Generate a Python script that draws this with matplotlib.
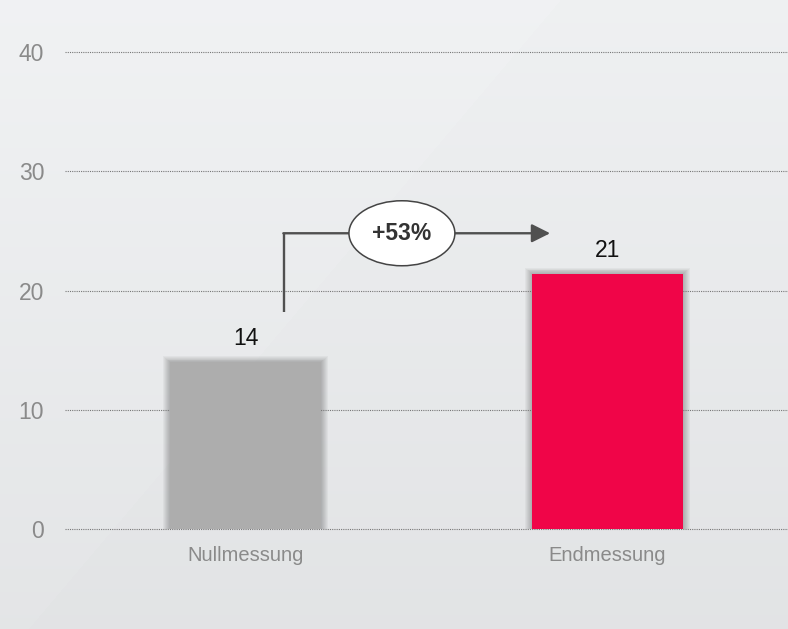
import numpy as np
import matplotlib
matplotlib.use("Agg")
import matplotlib.pyplot as plt
from matplotlib.patches import Ellipse, Rectangle

categories = ["Nullmessung", "Endmessung"]
values = [14.0, 21.4]
value_labels = ["14", "21"]
change_label = "+53%"
yticks = [0, 10, 20, 30, 40]
bar_colors = ["#adadad", "#f00548"]

plt.rcParams['font.family'] = ['Liberation Sans', 'DejaVu Sans']

fig = plt.figure(figsize=(7.88, 6.29), dpi=100)

# background gradient
bg = fig.add_axes([0, 0, 1, 1])
bg.set_axis_off()
H, W = 629, 788
yy, xx = np.mgrid[0:H, 0:W]
base = 0.945 - 0.05 * (yy / H)
d = (xx - 560) + 0.95 * yy * (560 / 629)
band = np.where(d < 0, 0.006, 0.0)
img = np.clip(base + band, 0, 1)
rgb = np.stack([img - 0.008, img - 0.002, img + 0.004], axis=-1)
bg.imshow(np.clip(rgb, 0, 1), aspect='auto', extent=[0, 1, 0, 1], origin='upper')
bg.set_xlim(0, 1); bg.set_ylim(0, 1)

ax = fig.add_axes([65/788, 1-529/629, (788-65)/788, (529-52)/629])
ax.patch.set_alpha(0)
ax.set_xlim(-0.5, 1.5)
ax.set_ylim(0, 40)
for s in ax.spines.values():
    s.set_visible(False)

ax.set_yticks(yticks)
ax.set_yticklabels([str(t) for t in yticks])
ax.yaxis.grid(True, linestyle=(0, (1, 1)), color="#777777", linewidth=0.8, zorder=2.5)
ax.set_axisbelow(False)
ax.tick_params(axis='y', length=0, pad=15, labelsize=16.5, labelcolor="#8a8a8a")
ax.tick_params(axis='x', length=0, pad=12, labelsize=14.5, labelcolor="#8a8a8a")

x = np.arange(len(categories))
width = 0.418
# soft shadow
for xi, v in zip(x, values):
    for k in range(7):
        p = 0.0028 * (k + 1)
        py = 0.07 * (k + 1)
        ax.add_patch(Rectangle((xi - width/2 - p, 0), width + 2*p, v + py,
                               facecolor="#000000", alpha=0.035, linewidth=0, zorder=2))
ax.bar(x, values, width=width, color=bar_colors, zorder=3)
ax.set_xticks(x)
ax.set_xticklabels(categories)
for gl in ax.get_ygridlines():
    gl.set_clip_on(False)

for xi, v, lab in zip(x, values, value_labels):
    ax.annotate(lab, (xi, v), xytext=(0, 8.5), textcoords='offset points',
                ha='center', va='bottom', fontsize=16.5, color="#111111", zorder=5)

# change arrow
lc = "#505050"
x0, y0, yh, x1 = 0.106, 18.2, 24.8, 0.842
ax.plot([x0, x0], [y0, yh], color=lc, lw=1.7, solid_capstyle='butt', zorder=4)
ax.annotate("", xy=(x1, yh), xytext=(x0 - 0.002, yh),
            arrowprops=dict(arrowstyle='-|>', color=lc, lw=1.7,
                            mutation_scale=28, shrinkA=0, shrinkB=0), zorder=4)
ax.add_patch(Ellipse((0.432, yh), 0.293, 5.45, facecolor="white",
                     edgecolor="#444444", linewidth=1.1, zorder=5))
ax.text(0.432, yh, change_label, ha='center', va='center', fontsize=16.5,
        fontweight='bold', color="#333333", zorder=6)

fig.savefig("out.png", dpi=100)
